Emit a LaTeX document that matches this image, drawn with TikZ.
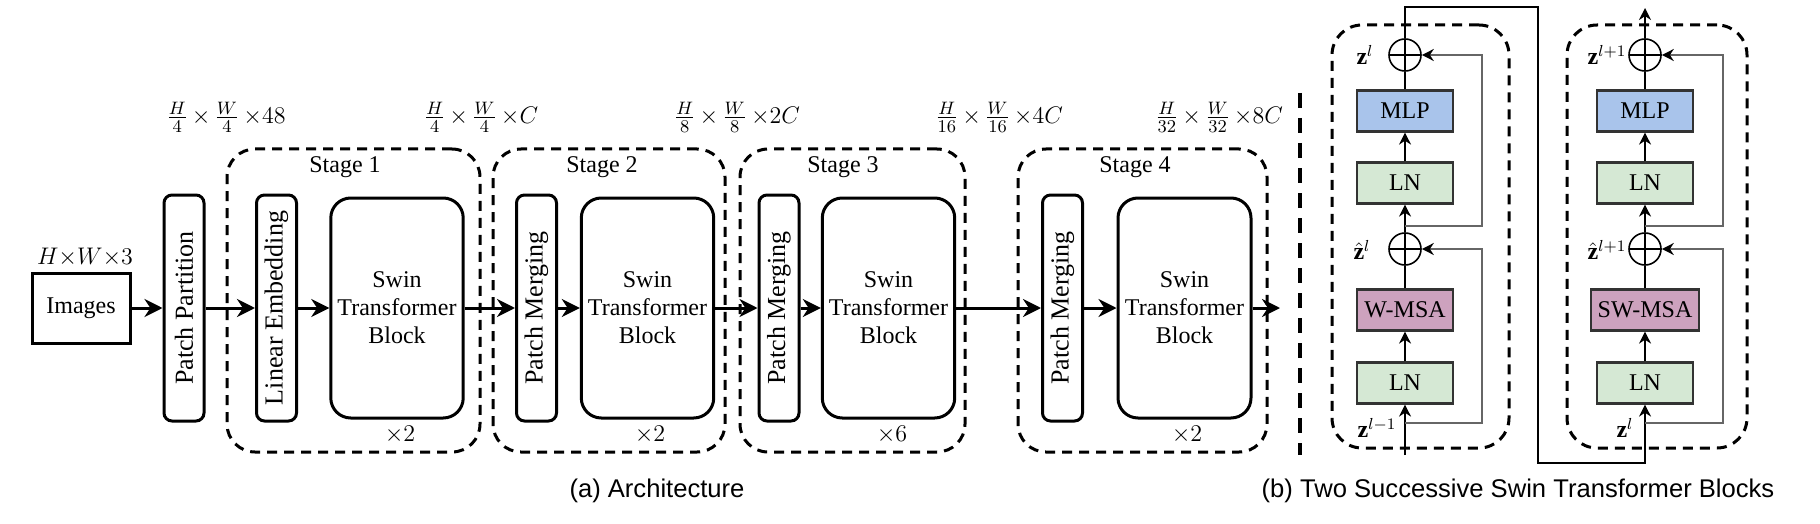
\documentclass[tikz,border=0pt]{standalone}
\usepackage{fontspec}
\setmainfont{Liberation Serif}
\newfontfamily\capfont{Liberation Sans}
\usetikzlibrary{arrows.meta}
\definecolor{mlpblue}{HTML}{A9C4EB}
\definecolor{lngreen}{HTML}{D5E8D4}
\definecolor{msapink}{HTML}{CDA2BE}
\definecolor{rimgray}{HTML}{333333}
\tikzset{
  base/.style={font=\fontsize{12}{14}\selectfont},
  dimlabel/.style={font=\fontsize{13}{15}\selectfont},
  imgbox/.style={draw,line width=1.5pt,minimum width=49pt,minimum height=35pt,base},
  slab/.style={draw,line width=1.5pt,rounded corners=4pt,rotate=90,minimum width=113pt,minimum height=20pt,inner sep=0pt,font=\fontsize{13}{15}\selectfont},
  swinbox/.style={draw,line width=1.5pt,rounded corners=10pt,minimum height=110pt,align=center,base},
  stagebox/.style={draw,line width=1.5pt,dash pattern=on 5pt off 3.5pt,rounded corners=14pt,minimum height=151.5pt},
  flow/.style={-{Stealth[length=9pt,width=9pt]},line width=1.5pt},
  layer/.style={draw=rimgray,line width=1.1pt,minimum width=48pt,minimum height=20.5pt,base},
  addop/.style={circle,draw,line width=0.8pt,minimum size=16pt,inner sep=0pt,
    path picture={\draw[line width=0.8pt] (path picture bounding box.north) -- (path picture bounding box.south)
      (path picture bounding box.west) -- (path picture bounding box.east);}},
  lane/.style={line width=0.9pt},
  lanearrow/.style={lane,-{Stealth[length=6pt,width=6pt]}},
  skip/.style={lane,draw=black!60,-{Stealth[length=6pt,width=6pt,color=black]}},
  blockframe/.style={draw,line width=1.5pt,dash pattern=on 5pt off 3.5pt,rounded corners=15pt,minimum height=211.5pt},
  divider/.style={line width=2.2pt,dash pattern=on 7.5pt off 5pt},
  caption/.style={font=\capfont\fontsize{12.8}{15}\selectfont},
}
\begin{document}
\begin{tikzpicture}[x=0.5pt,y=-0.5pt]
  \useasboundingbox (0,0) rectangle (1820,524);
  \draw
    (81,308) node[imgbox] (img) {Images}
    (85,257) node[base] (imgdim) {$H{\times}W{\times}3$}
    (184,308) node[slab] (pp) {Patch Partition}
    (353.5,300.5) node[stagebox,minimum width=126.5pt] (stage1) {}
    (276.5,308) node[slab] (le) {Linear Embedding}
    (397,308) node[swinbox,minimum width=66pt] (swin1) {Swin\\Transformer\\Block}
    (609,300.5) node[stagebox,minimum width=116pt] (stage2) {}
    (536.5,308) node[slab] (pm2) {Patch Merging}
    (647.5,308) node[swinbox,minimum width=61.5pt] (swin2) {Swin\\Transformer\\Block}
    (852.5,300.5) node[stagebox,minimum width=112.5pt] (stage3) {}
    (779,308) node[slab] (pm3) {Patch Merging}
    (888.5,308) node[swinbox,minimum width=61.5pt] (swin3) {Swin\\Transformer\\Block}
    (1142.5,300.5) node[stagebox,minimum width=124.5pt] (stage4) {}
    (1062.5,308) node[slab] (pm4) {Patch Merging}
    (1184.5,308) node[swinbox,minimum width=66.5pt] (swin4) {Swin\\Transformer\\Block};
  \draw
    (345,167) node[base] (st1) {Stage 1}
    (602,167) node[base] (st2) {Stage 2}
    (843,167) node[base] (st3) {Stage 3}
    (1135,167) node[base] (st4) {Stage 4}
    (400,435) node[base] (rep1) {$\times2$}
    (650,435) node[base] (rep2) {$\times2$}
    (892,435) node[base] (rep3) {$\times6$}
    (1187,435) node[base] (rep4) {$\times2$}
    (226,117) node[dimlabel] (dim0) {$\frac{H}{4}\,{\times}\,\frac{W}{4}\,{\times}48$}
    (481,117) node[dimlabel] (dim1) {$\frac{H}{4}\,{\times}\,\frac{W}{4}\,{\times}C$}
    (737,117) node[dimlabel] (dim2) {$\frac{H}{8}\,{\times}\,\frac{W}{8}\,{\times}2C$}
    (999,117) node[dimlabel] (dim3) {$\frac{H}{16}\,{\times}\,\frac{W}{16}\,{\times}4C$}
    (1219,117) node[dimlabel] (dim4) {$\frac{H}{32}\,{\times}\,\frac{W}{32}\,{\times}8C$};
  \coordinate (out) at (1280,308);
  \begin{scope}[flow]
    \draw (img) to (pp);
    \draw (pp) to (le);
    \draw (le) to (swin1);
    \draw (swin1) to (pm2);
    \draw (pm2) to (swin2);
    \draw (swin2) to (pm3);
    \draw (pm3) to (swin3);
    \draw (swin3) to (pm4);
    \draw (pm4) to (swin4);
    \draw (swin4) to (out);
  \end{scope}
  \coordinate (sepTop) at (1300,93);
  \coordinate (sepBot) at (1300,455);
  \draw[divider] (sepTop) -- (sepBot);
  \draw
    (1420.5,236.5) node[blockframe,minimum width=88.5pt] (frameA) {}
    (1405,55) node[addop] (addA) {}
    (1405,111) node[layer,fill=mlpblue] (mlpA) {MLP}
    (1405,183) node[layer,fill=lngreen] (lnA2) {LN}
    (1405,249) node[addop] (addB) {}
    (1405,310) node[layer,fill=msapink] (msaA) {W-MSA}
    (1405,383) node[layer,fill=lngreen] (lnA1) {LN}
    (1657,236.5) node[blockframe,minimum width=90pt] (frameB) {}
    (1645,55) node[addop] (addC) {}
    (1645,111) node[layer,fill=mlpblue] (mlpB) {MLP}
    (1645,183) node[layer,fill=lngreen] (lnB2) {LN}
    (1645,249) node[addop] (addD) {}
    (1645,310) node[layer,fill=msapink,minimum width=50pt] (msaB) {SW-MSA}
    (1645,383) node[layer,fill=lngreen] (lnB1) {LN};
  \draw
    (1365,55) node[base] (zA) {$\mathbf{z}^{l}$}
    (1362,250) node[base] (zhatA) {$\hat{\mathbf{z}}^{l}$}
    (1377,428) node[base] (zinA) {$\mathbf{z}^{l-1}$}
    (1607,55) node[base] (zB) {$\mathbf{z}^{l+1}$}
    (1607,250) node[base] (zhatB) {$\hat{\mathbf{z}}^{l+1}$}
    (1625,428) node[base] (zinB) {$\mathbf{z}^{l}$};
  \coordinate (inA) at (1405,455);
  \coordinate (forkA1) at (1405,423);
  \coordinate (railA1) at (1482,249);
  \coordinate (forkA2) at (1405,226);
  \coordinate (railA2) at (1482,55);
  \coordinate (topA) at (1405,7);
  \coordinate (bendA) at (1538,463);
  \coordinate (forkB1) at (1645,423);
  \coordinate (railB1) at (1723,249);
  \coordinate (forkB2) at (1645,226);
  \coordinate (railB2) at (1723,55);
  \coordinate (outB) at (1645,8);
  \begin{scope}[lanearrow]
    \draw (inA) to (lnA1);
    \draw (lnA1) to (msaA);
    \draw[-] (msaA) to (addB);
    \draw (addB) to (lnA2);
    \draw (lnA2) to (mlpA);
    \draw[-] (mlpA) to (addA);
    \draw[skip] (forkA1) -| (railA1) -- (addB);
    \draw[skip] (forkA2) -| (railA2) -- (addA);
    \draw (addA) -- (topA) -| (bendA) -| (lnB1);
    \draw (lnB1) to (msaB);
    \draw[-] (msaB) to (addD);
    \draw (addD) to (lnB2);
    \draw (lnB2) to (mlpB);
    \draw[-] (mlpB) to (addC);
    \draw (addC) to (outB);
    \draw[skip] (forkB1) -| (railB1) -- (addD);
    \draw[skip] (forkB2) -| (railB2) -- (addC);
  \end{scope}
  \draw
    (657,491) node[caption] (capA) {(a) Architecture}
    (1518,491) node[caption] (capB) {(b) Two Successive Swin Transformer Blocks};
\end{tikzpicture}
\end{document}
